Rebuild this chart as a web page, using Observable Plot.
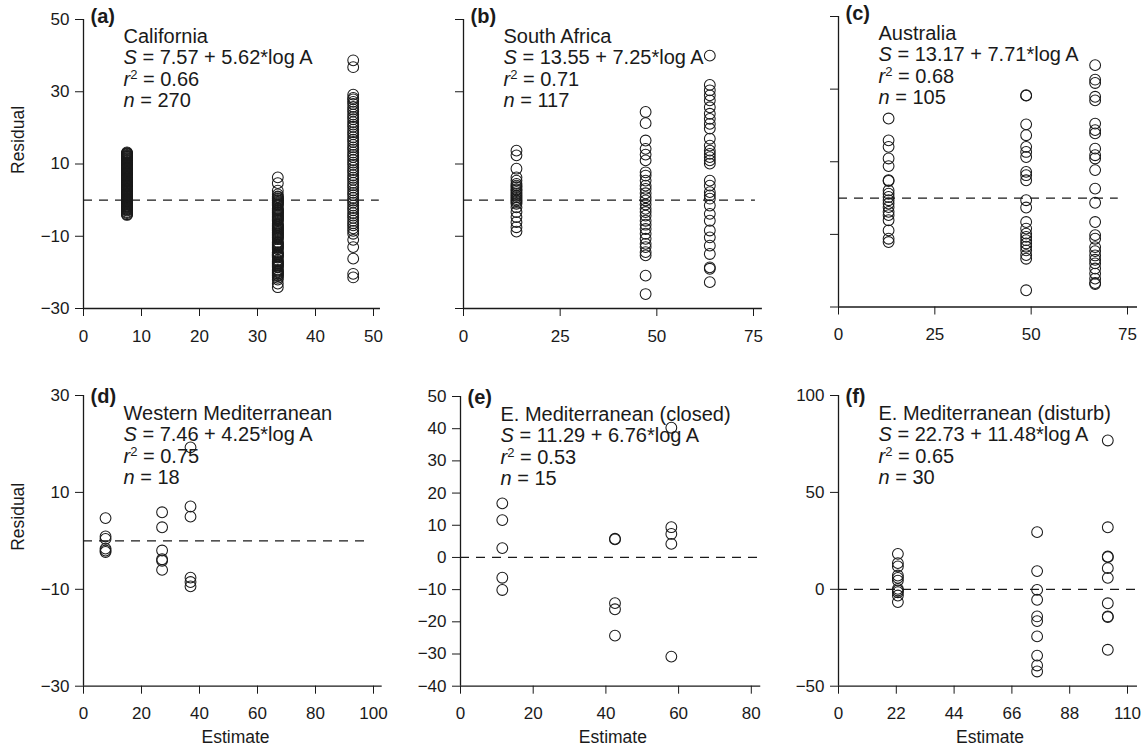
<!DOCTYPE html>
<html><head><meta charset="utf-8">
<script src="https://cdn.jsdelivr.net/npm/d3@7"></script>
<script src="https://cdn.jsdelivr.net/npm/@observablehq/plot@0.6"></script>
<style>
body{margin:0;background:#fff;}
#chart{position:relative;width:1147px;height:750px;}
#chart svg{position:absolute;}
</style></head><body><div id="chart"></div>
<script>
// ---------- DATA ----------
const panelLetters = ["(a)", "(b)", "(c)", "(d)", "(e)", "(f)"];
const regionNames = ["California", "South Africa", "Australia", "Western Mediterranean", "E. Mediterranean (closed)", "E. Mediterranean (disturb)"];
const equations = ["7.57 + 5.62*log A", "13.55 + 7.25*log A", "13.17 + 7.71*log A", "7.46 + 4.25*log A", "11.29 + 6.76*log A", "22.73 + 11.48*log A"];
const r2Values = ["0.66", "0.71", "0.68", "0.75", "0.53", "0.65"];
const nValues = ["270", "117", "105", "18", "15", "30"];

// x ticks / y ticks per panel
const xTicksA = [0, 10, 20, 30, 40, 50];
const xTicksB = [0, 25, 50, 75];
const xTicksC = [0, 25, 50, 75];
const xTicksD = [0, 20, 40, 60, 80, 100];
const xTicksE = [0, 20, 40, 60, 80];
const xTicksF = [0, 22, 44, 66, 88, 110];
const yTicksA = [-30, -10, 10, 30, 50];
const yTicksB = [-30, -10, 10, 30, 50];
const yTicksC = [-30, -10, 10, 30, 50];
const yTicksD = [-30, -10, 10, 30];
const yTicksE = [-40, -30, -20, -10, 0, 10, 20, 30, 40, 50];
const yTicksF = [-50, 0, 50, 100];

// Estimates (x of each column) and residuals (one array per column)
const estA = [7.5, 33.5, 46.5];
const resA = [
  [13.2, 13.0, 12.9, 12.7, 12.5, 12.3, 12.2, 12.0, 11.8, 11.6, 11.5, 11.3, 11.1, 10.9, 10.8, 10.6, 10.4, 10.2, 10.1, 9.9, 9.7, 9.5, 9.4, 9.2, 9.0, 8.8, 8.7, 8.5, 8.3, 8.1, 8.0, 7.8, 7.6, 7.4, 7.3, 7.1, 6.9, 6.7, 6.6, 6.4, 6.2, 6.0, 5.9, 5.7, 5.5, 5.3, 5.2, 5.0, 4.8, 4.6, 4.5, 4.3, 4.1, 3.9, 3.8, 3.6, 3.4, 3.2, 3.1, 2.9, 2.7, 2.5, 2.4, 2.2, 2.0, 1.8, 1.7, 1.5, 1.3, 1.1, 1.0, 0.8, 0.6, 0.4, 0.3, 0.1, -0.1, -0.3, -0.4, -0.6, -0.8, -1.0, -1.1, -1.3, -1.5, -1.7, -1.8, -2.0, -2.2, -2.4, -2.5, -2.7, -2.9, -3.3, -3.6, -3.9, -4.1],
  [6.3, 4.7, 2.6, 1.6, 1.0, 0.8, 0.5, 0.3, 0.0, -0.2, -0.5, -0.7, -1.0, -1.2, -1.5, -2.3, -2.5, -2.8, -3.0, -3.3, -3.5, -3.8, -4.0, -4.3, -4.5, -4.8, -5.0, -5.3, -5.5, -5.8, -6.5, -6.8, -7.0, -7.3, -7.5, -7.8, -8.0, -8.3, -8.5, -8.8, -9.0, -9.3, -9.5, -9.8, -10.0, -10.3, -10.5, -10.8, -11.6, -11.8, -12.1, -12.3, -12.6, -12.8, -13.1, -13.3, -13.6, -14.4, -14.6, -14.9, -15.1, -15.4, -15.6, -15.9, -16.6, -16.9, -17.1, -17.4, -17.6, -17.9, -18.1, -18.4, -18.6, -19.3, -19.5, -19.8, -20.0, -20.3, -20.5, -20.8, -21.0, -21.5, -22.0, -23.1, -24.1],
  [38.7, 36.8, 29.2, 28.3, 27.9, 27.2, 26.6, 25.8, 25.1, 24.5, 23.7, 23.0, 22.4, 21.6, 20.9, 20.3, 19.5, 18.8, 18.2, 17.4, 16.7, 16.1, 15.3, 14.6, 14.0, 13.2, 12.5, 11.9, 11.1, 10.4, 9.8, 9.0, 8.3, 7.7, 6.9, 6.2, 5.6, 4.8, 4.1, 3.5, 2.7, 2.0, 1.4, 0.6, -0.1, -0.7, -1.5, -2.2, -2.8, -3.6, -4.3, -4.9, -5.7, -6.4, -7.0, -7.8, -8.5, -9.3, -11.0, -13.0, -16.2, -20.4, -21.4]
];
const estB = [13.7, 47.1, 63.7];
const resB = [
  [13.7, 12.4, 8.7, 6.3, 5.4, 4.5, 4.0, 3.6, 3.0, 2.7, 2.2, 1.7, 1.2, 0.8, 0.3, -0.1, -0.5, -1.0, -2.0, -3.3, -4.7, -6.1, -7.5, -8.7],
  [24.4, 21.3, 16.5, 14.2, 12.6, 11.0, 7.7, 6.8, 5.4, 4.0, 3.1, 1.9, 0.8, -0.1, -1.2, -2.4, -3.3, -4.3, -5.7, -6.8, -8.0, -9.3, -10.7, -12.1, -13.0, -14.4, -15.3, -20.9, -26.0],
  [40.0, 31.9, 30.4, 29.0, 27.6, 25.7, 23.9, 22.5, 21.1, 19.8, 17.0, 15.1, 13.7, 12.8, 11.9, 11.0, 10.1, 5.4, 4.0, 2.2, 1.3, 0.4, -1.5, -3.8, -5.7, -8.4, -10.3, -12.6, -14.9, -18.6, -19.0, -22.7]
];
const estC = [13.0, 48.7, 66.6];
const resC = [
  [21.9, 15.9, 14.1, 10.9, 8.8, 4.9, 4.7, 2.1, 1.2, 0.3, -0.6, -1.5, -2.5, -3.8, -4.7, -6.1, -8.9, -11.2, -12.1],
  [28.3, 28.2, 20.3, 17.3, 14.1, 12.7, 11.3, 7.2, 6.3, 4.9, -0.6, -2.6, -6.6, -8.4, -9.8, -10.7, -11.6, -12.5, -13.4, -14.4, -15.7, -16.7, -25.4],
  [36.6, 32.6, 31.7, 27.9, 26.9, 20.5, 18.7, 17.8, 13.6, 11.8, 10.9, 7.7, 2.6, -1.3, -6.6, -10.2, -11.2, -13.5, -14.6, -15.8, -17.0, -18.0, -19.4, -20.8, -22.2, -23.4, -23.7]
];
const estD = [7.6, 27.1, 36.9];
const resD = [
  [4.7, 0.9, 0.4, -1.6, -2.0, -2.3],
  [5.9, 2.8, -2.0, -3.8, -4.1, -6.0],
  [19.3, 7.1, 5.0, -7.6, -8.5, -9.4]
];
const estE = [11.5, 42.5, 58.0];
const resE = [
  [16.8, 11.6, 2.9, -6.3, -10.1],
  [5.8, 5.6, -14.2, -16.1, -24.3],
  [40.3, 9.4, 7.3, 4.2, -30.8]
];
const estF = [22.6, 75.6, 102.5];
const resF = [
  [18.3, 13.5, 11.8, 7.1, 5.9, 4.5, 0.2, -0.6, -1.5, -3.2, -6.6],
  [29.5, 9.4, -0.3, -5.4, -14.0, -16.4, -24.3, -34.2, -39.3, -42.4],
  [76.8, 32.0, 16.9, 16.6, 10.9, 5.9, -7.2, -14.0, -14.3, -31.2]
];

// ---------- LAYOUT ----------
const FONT = '"Liberation Sans", Arial, Helvetica, sans-serif';
const INK = "#1a1a1a";
const layout = [
  {left: 0,   top: 0,   width: 385, height: 345, mL: 83, mR: 12,   mT: 19, mB: 37,   xDomain: [0, 50],  yDomain: [-30, 50],  xTicks: xTicksA, yTicks: yTicksA, yLabels: true,  axisEnd: 51.2,  zeroEnd: 51,   est: estA, res: resA, row: 1},
  {left: 385, top: 0,   width: 385, height: 345, mL: 78, mR: 17,   mT: 19, mB: 37,   xDomain: [0, 75],  yDomain: [-30, 50],  xTicks: xTicksB, yTicks: yTicksB, yLabels: false, axisEnd: 77.3,  zeroEnd: 75.5, est: estB, res: resB, row: 1},
  {left: 770, top: 0,   width: 377, height: 345, mL: 68, mR: 20,   mT: 16, mB: 38.5, xDomain: [0, 75],  yDomain: [-30, 50],  xTicks: xTicksC, yTicks: yTicksC, yLabels: false, axisEnd: 77.6,  zeroEnd: 72.6, est: estC, res: resC, row: 1},
  {left: 0,   top: 345, width: 385, height: 405, mL: 83, mR: 12,   mT: 50, mB: 64.3, xDomain: [0, 100], yDomain: [-30, 30],  xTicks: xTicksD, yTicks: yTicksD, yLabels: true,  axisEnd: 103,   zeroEnd: 97.2, est: estD, res: resD, row: 2},
  {left: 385, top: 345, width: 385, height: 405, mL: 75, mR: 19.2, mT: 51, mB: 64.3, xDomain: [0, 80],  yDomain: [-40, 50],  xTicks: xTicksE, yTicks: yTicksE, yLabels: true,  axisEnd: 82.6,  zeroEnd: 82.6, est: estE, res: resE, row: 2},
  {left: 770, top: 345, width: 377, height: 405, mL: 68, mR: 20,   mT: 50, mB: 64.3, xDomain: [0, 110], yDomain: [-50, 100], xTicks: xTicksF, yTicks: yTicksF, yLabels: true,  axisEnd: 113.8, zeroEnd: 113.8, est: estF, res: resF, row: 2}
];

const fmt = d => d < 0 ? "\u2212" + Math.abs(d) : String(d);

function note(str, dx, dy, extra = {}) {
  return Plot.text([str], {
    text: d => d, frameAnchor: "top-left", dx, dy,
    textAnchor: "start", lineAnchor: "bottom",
    fontSize: 20, fill: INK, ...extra
  });
}

// rich text: _x_ italic, ^x^ superscript
function richify(svg) {
  d3.select(svg).selectAll("text").each(function () {
    const t = this.textContent;
    if (!/[_^]/.test(t) || this.querySelector("tspan")) return;
    const parts = t.split(/(_[^_]+_|\^[^^]+\^)/).filter(s => s.length);
    this.textContent = "";
    let raised = false;
    for (const p of parts) {
      const ts = document.createElementNS("http://www.w3.org/2000/svg", "tspan");
      if (p.startsWith("_")) {
        ts.textContent = p.slice(1, -1);
        ts.setAttribute("font-style", "italic");
        if (raised) { ts.setAttribute("dy", "7"); raised = false; }
      } else if (p.startsWith("^")) {
        ts.textContent = p.slice(1, -1);
        ts.setAttribute("font-size", "13");
        ts.setAttribute("dy", "-7");
        raised = true;
      } else {
        ts.textContent = p;
        if (raised) { ts.setAttribute("dy", "7"); raised = false; }
      }
      this.appendChild(ts);
    }
  });
}

const chart = document.getElementById("chart");

layout.forEach((P, i) => {
  const points = [];
  P.est.forEach((x, k) => P.res[k].forEach(y => points.push({x, y})));
  const r2 = P.row === 1 ? 0 : 2;
  const labelDy = P.row === 1 ? 3 : 7.5;
  const marks = [
    Plot.ruleY([0], {x1: 0, x2: P.zeroEnd, stroke: INK, strokeWidth: 1.3, strokeDasharray: "9,7"}),
    Plot.ruleX([0], {y1: P.yDomain[0], y2: P.yDomain[1], stroke: INK, strokeWidth: 1.3}),
    Plot.ruleY([P.yDomain[0]], {x1: 0, x2: P.axisEnd, stroke: INK, strokeWidth: 1.3}),
    Plot.dot(points, {x: "x", y: "y", r: 5.4, stroke: INK, strokeWidth: 1.05, fill: "none"}),
    note(panelLetters[i], 7, labelDy, {fontWeight: "bold", fontSize: 20}),
    note(regionNames[i], 40, 23.5 + r2 * 0.5),
    note("_S_ = " + equations[i], 40, 44.5 + r2 * 0.5),
    note("_r_^2^ = " + r2Values[i], 40, 66.5 + r2 * 0.5),
    note("_n_ = " + nValues[i], 40, 87.5 + r2 * 0.5)
  ];
  if (i % 3 === 0) {
    marks.push(Plot.text(["Residual"], {text: d => d, frameAnchor: "left", rotate: -90, dx: -65, dy: 10, fontSize: 17.5, fill: INK}));
  }
  if (P.row === 2) {
    marks.push(Plot.text(["Estimate"], {text: d => d, frameAnchor: "bottom", lineAnchor: "bottom", dx: 7, dy: 57, fontSize: 17.5, fill: INK}));
  }
  const svg = Plot.plot({
    width: P.width, height: P.height,
    marginLeft: P.mL, marginRight: P.mR, marginTop: P.mT, marginBottom: P.mB,
    style: {fontFamily: FONT, fontSize: "17px", color: INK, background: "transparent", overflow: "visible"},
    x: {domain: P.xDomain, ticks: P.xTicks, tickSize: 8, tickPadding: 13, tickFormat: fmt, label: null},
    y: {domain: P.yDomain, ticks: P.yTicks, tickSize: 8, tickPadding: 6, tickFormat: P.yLabels ? fmt : () => "", label: null},
    marks
  });
  richify(svg);
  svg.style.left = P.left + "px";
  svg.style.top = P.top + "px";
  chart.appendChild(svg);
});
</script>
</body></html>
